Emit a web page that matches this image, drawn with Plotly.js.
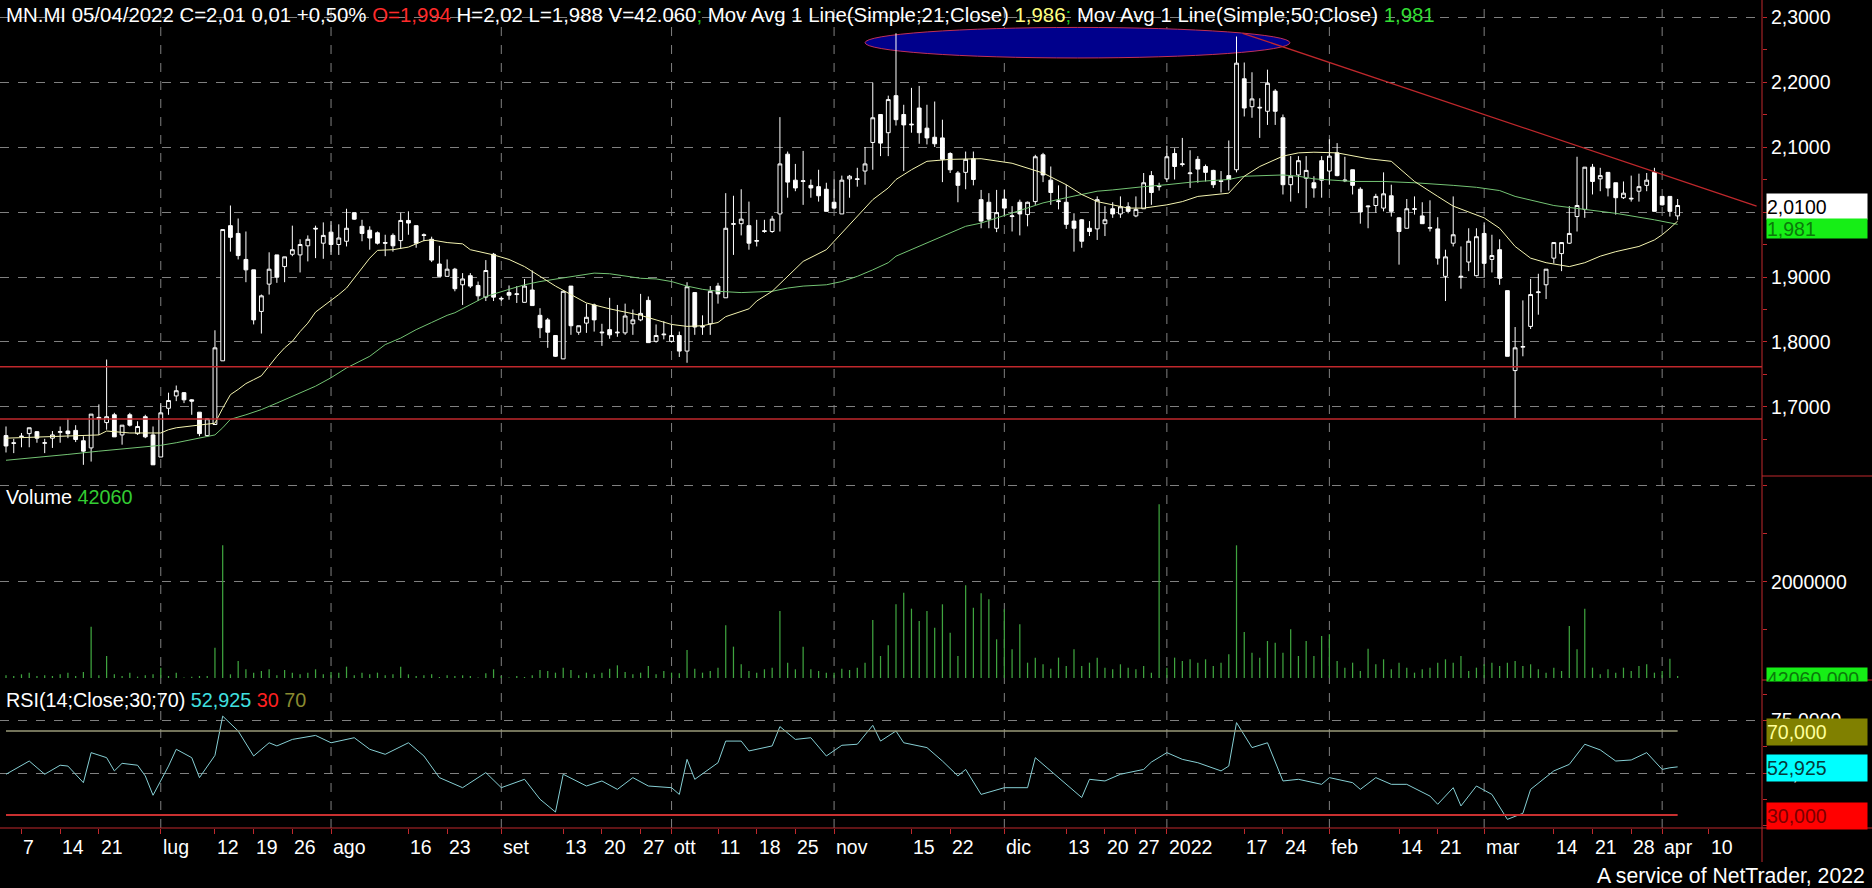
<!DOCTYPE html>
<html><head><meta charset="utf-8">
<script src="https://cdn.plot.ly/plotly-3.0.1.min.js"></script>
<style>html,body{margin:0;padding:0;background:#000;}#chart{width:1872px;height:888px;}</style>
</head><body><div id="chart"></div>
<script>
// ---------- DATA ----------
const startDate = '2021-06-03';
const endCalendar = '2022-04-15';
const holidays = ['2021-12-24','2021-12-31'];

const opens = [1.656,1.645,1.654,1.659,1.662,1.644,1.652,1.661,1.663,1.664,
1.648,1.637,1.682,1.676,1.688,1.657,1.688,1.659,1.685,1.657,
1.623,1.698,1.717,1.722,1.711,1.692,1.656,1.673,1.771,1.979,
1.967,1.927,1.911,1.847,1.889,1.934,1.916,1.935,1.934,1.948,
1.975,1.952,1.969,1.950,1.955,1.999,1.978,1.972,1.968,1.953,
1.964,1.956,1.987,1.979,1.965,1.958,1.920,1.901,1.912,1.888,
1.902,1.887,1.869,1.935,1.866,1.876,1.873,1.861,1.880,1.841,
1.834,1.810,1.774,1.886,1.815,1.829,1.857,1.814,1.819,1.814,
1.814,1.828,1.834,1.864,1.801,1.811,1.801,1.810,1.786,1.876,
1.823,1.828,1.886,1.868,1.981,1.982,1.979,1.955,1.970,1.970,
1.997,2.089,2.049,2.047,2.041,2.039,2.035,2.015,1.997,2.051,
2.050,2.063,2.107,2.150,2.122,2.179,2.150,2.134,2.160,2.129,
2.115,2.114,2.090,2.060,2.061,2.082,2.019,2.015,1.975,2.020,
1.993,2.015,1.996,2.016,2.088,2.049,2.016,2.015,1.986,1.988,
1.975,1.974,1.982,2.005,1.997,2.008,1.994,2.005,2.056,2.039,
2.051,2.090,2.073,2.059,2.081,2.070,2.064,2.047,2.056,2.065,
2.205,2.162,2.160,2.155,2.186,2.145,2.042,2.057,2.052,2.045,
2.079,2.063,2.091,2.048,2.065,2.035,2.008,2.010,2.006,2.025,
1.991,1.975,2.004,1.994,1.975,1.974,1.901,1.952,1.900,1.923,
1.902,1.967,1.927,1.942,1.879,1.756,1.792,1.824,1.876,1.888,
1.929,1.936,1.952,1.993,2.004,2.069,2.051,2.061,2.045,2.022,
2.020,2.032,2.041,2.061,2.024,2.024,1.994];

const highs = [1.670,1.651,1.660,1.668,1.663,1.651,1.663,1.670,1.682,1.672,
1.655,1.689,1.704,1.773,1.691,1.672,1.691,1.678,1.688,1.670,
1.706,1.722,1.733,1.723,1.712,1.692,1.682,1.818,1.973,2.010,
1.990,1.970,1.911,1.873,1.938,1.934,1.931,1.979,1.958,1.964,
1.979,1.984,1.986,1.981,2.005,1.999,1.988,1.978,1.970,1.965,
1.967,1.999,2.001,1.979,1.967,1.962,1.948,1.927,1.914,1.906,
1.906,1.893,1.926,1.937,1.870,1.887,1.886,1.897,1.910,1.852,
1.837,1.810,1.878,1.886,1.825,1.859,1.859,1.828,1.868,1.857,
1.859,1.850,1.874,1.870,1.827,1.832,1.827,1.816,1.892,1.876,
1.841,1.886,1.891,2.029,2.025,2.035,2.016,1.988,1.988,1.994,
2.146,2.093,2.074,2.094,2.050,2.065,2.045,2.050,2.056,2.057,
2.068,2.100,2.199,2.150,2.179,2.275,2.165,2.191,2.194,2.165,
2.170,2.142,2.092,2.063,2.093,2.093,2.034,2.029,2.034,2.034,
2.009,2.019,2.016,2.088,2.091,2.070,2.041,2.042,1.998,1.989,
1.986,2.024,2.009,2.015,2.024,2.015,2.024,2.060,2.063,2.045,
2.102,2.098,2.114,2.095,2.086,2.073,2.065,2.063,2.110,2.270,
2.230,2.215,2.175,2.219,2.189,2.150,2.086,2.086,2.086,2.055,
2.086,2.112,2.106,2.085,2.065,2.038,2.010,2.028,2.061,2.042,
1.992,2.020,2.024,2.015,2.018,1.992,1.942,2.024,1.947,1.975,
1.975,1.984,1.965,1.958,1.879,1.823,1.864,1.897,1.905,1.912,
1.953,1.953,2.009,2.085,2.069,2.074,2.068,2.061,2.045,2.047,
2.056,2.059,2.060,2.068,2.024,2.024,2.020];

const lows = [1.630,1.629,1.638,1.638,1.645,1.629,1.637,1.645,1.652,1.646,
1.611,1.616,1.657,1.665,1.654,1.642,1.670,1.657,1.652,1.611,
1.623,1.688,1.709,1.706,1.688,1.655,1.655,1.673,1.771,1.939,
1.927,1.892,1.827,1.813,1.873,1.891,1.892,1.932,1.907,1.924,
1.929,1.928,1.934,1.934,1.947,1.988,1.955,1.942,1.950,1.932,
1.939,1.943,1.965,1.945,1.955,1.923,1.901,1.901,1.878,1.857,
1.883,1.863,1.863,1.863,1.863,1.865,1.860,1.861,1.856,1.806,
1.791,1.777,1.774,1.811,1.811,1.814,1.816,1.794,1.805,1.808,
1.811,1.811,1.832,1.799,1.799,1.804,1.799,1.777,1.768,1.811,
1.811,1.811,1.859,1.868,1.934,1.964,1.942,1.947,1.968,1.968,
1.970,2.022,2.032,2.011,2.022,2.016,2.001,2.005,1.997,2.022,
2.039,2.042,2.065,2.086,2.086,2.133,2.063,2.122,2.105,2.104,
2.100,2.046,2.060,2.015,2.035,2.041,1.975,1.975,1.969,1.993,
1.970,1.964,1.978,2.011,2.046,2.011,2.004,1.974,1.939,1.945,
1.963,1.957,1.963,1.991,1.991,1.998,1.992,2.005,2.011,2.033,
2.046,2.050,2.070,2.037,2.045,2.047,2.037,2.030,2.033,2.061,
2.147,2.145,2.114,2.134,2.134,2.027,2.016,2.029,2.006,2.022,
2.022,2.042,2.055,2.046,2.027,1.982,1.975,1.999,2.001,1.993,
1.919,1.975,1.996,1.982,1.970,1.919,1.863,1.947,1.882,1.909,
1.901,1.900,1.907,1.888,1.778,1.683,1.778,1.820,1.842,1.866,
1.921,1.909,1.951,1.970,1.991,2.027,2.032,2.024,1.996,2.020,
2.016,2.016,2.032,2.001,2.010,1.993,1.988];

const closes = [1.640,1.644,1.655,1.668,1.652,1.645,1.657,1.662,1.659,1.650,
1.632,1.689,1.684,1.685,1.654,1.672,1.672,1.670,1.654,1.611,
1.691,1.710,1.725,1.711,1.709,1.659,1.682,1.791,1.973,1.961,
1.933,1.911,1.834,1.871,1.912,1.900,1.931,1.942,1.950,1.958,
1.974,1.964,1.950,1.960,1.975,1.989,1.967,1.960,1.952,1.952,
1.948,1.987,1.983,1.952,1.964,1.926,1.901,1.912,1.882,1.897,
1.886,1.871,1.910,1.869,1.867,1.872,1.874,1.886,1.856,1.822,
1.815,1.778,1.878,1.825,1.825,1.838,1.834,1.815,1.811,1.815,
1.840,1.834,1.844,1.799,1.810,1.812,1.810,1.786,1.885,1.823,
1.824,1.878,1.874,1.975,1.982,1.989,1.952,1.956,1.971,1.989,
2.074,2.046,2.037,2.048,2.037,2.025,2.001,2.006,2.049,2.055,
2.051,2.074,2.145,2.106,2.173,2.142,2.134,2.135,2.122,2.114,
2.105,2.081,2.065,2.041,2.081,2.050,1.986,1.989,1.999,2.006,
1.994,1.997,2.015,2.085,2.057,2.030,2.017,1.981,1.975,1.955,
1.970,2.019,1.988,1.997,2.008,2.001,2.004,2.045,2.030,2.040,
2.085,2.070,2.074,2.060,2.066,2.061,2.042,2.048,2.050,2.229,
2.160,2.174,2.161,2.198,2.155,2.042,2.055,2.079,2.064,2.037,
2.049,2.086,2.056,2.049,2.041,2.000,2.009,2.024,2.028,2.001,
1.970,2.005,2.005,1.982,1.976,1.929,1.931,1.965,1.901,1.955,
1.962,1.921,1.933,1.898,1.778,1.791,1.793,1.873,1.877,1.912,
1.953,1.953,1.967,2.010,2.069,2.047,2.056,2.037,2.022,2.029,
2.021,2.039,2.049,2.001,2.011,2.001,2.010];

const volumes = [56000,42000,76000,111000,42000,56000,42000,76000,111000,42000,
125000,1069000,56000,458000,76000,42000,111000,28000,56000,76000,
215000,42000,111000,10000,28000,42000,42000,632000,2764000,76000,
354000,181000,111000,146000,181000,56000,167000,111000,76000,111000,
181000,76000,125000,111000,236000,56000,111000,76000,111000,56000,
76000,236000,76000,42000,56000,76000,21000,56000,42000,56000,
42000,10000,97000,181000,42000,10000,42000,21000,56000,167000,
146000,111000,215000,167000,56000,111000,76000,111000,194000,264000,
125000,76000,111000,250000,76000,146000,111000,97000,583000,194000,
111000,146000,215000,1097000,653000,285000,146000,111000,181000,215000,
1396000,319000,181000,653000,181000,146000,111000,111000,194000,167000,
215000,319000,1208000,458000,681000,1535000,1778000,1444000,1188000,1396000,
1049000,1535000,944000,458000,1931000,1465000,1764000,1639000,806000,1431000,
597000,1118000,319000,424000,285000,194000,424000,250000,597000,250000,
319000,424000,215000,181000,285000,215000,181000,250000,111000,3618000,
215000,424000,354000,389000,319000,389000,250000,319000,493000,2764000,
958000,528000,424000,771000,736000,528000,1014000,458000,771000,458000,
875000,910000,354000,215000,319000,146000,611000,285000,389000,181000,
319000,215000,111000,181000,215000,319000,389000,319000,458000,146000,
215000,285000,319000,250000,319000,354000,250000,285000,181000,111000,
215000,146000,1083000,597000,1444000,215000,76000,181000,111000,215000,
146000,250000,285000,111000,146000,403000,42060];

// Moving averages (candle index, value)
const ma21Idx = [0,12,13,16,20,21,22,24,26,27,28,29,30,31,32,33,34,35,36,37,38,39,40,41,42,43,44,45,46,47,48,50,52,53,54,55,57,59,60,63,65,67,69,71,73,75,78,80,82,84,86,88,90,92,93,96,97,99,101,103,106,108,110,112,114,115,117,119,122,126,130,132,134,137,139,141,143,145,147,150,152,154,158,160,162,165,167,169,172,174,176,179,182,185,187,191,193,195,197,199,202,204,206,208,211,213,214,215,216];
const ma21Val = [1.652,1.657,1.663,1.660,1.660,1.665,1.668,1.671,1.673,1.675,1.698,1.719,1.727,1.736,1.742,1.748,1.763,1.778,1.791,1.801,1.816,1.829,1.846,1.855,1.863,1.873,1.883,1.898,1.914,1.929,1.941,1.942,1.946,1.951,1.956,1.957,1.953,1.951,1.942,1.934,1.927,1.916,1.901,1.886,1.873,1.860,1.851,1.846,1.841,1.834,1.827,1.824,1.825,1.830,1.839,1.851,1.863,1.878,1.901,1.924,1.942,1.968,1.993,2.019,2.037,2.050,2.065,2.078,2.081,2.082,2.075,2.068,2.060,2.042,2.027,2.016,2.011,2.006,2.006,2.011,2.016,2.024,2.029,2.055,2.070,2.086,2.091,2.092,2.091,2.086,2.082,2.078,2.047,2.024,2.009,1.991,1.975,1.947,1.929,1.922,1.916,1.922,1.932,1.939,1.947,1.957,1.965,1.975,1.986];
const ma50Idx = [0,4,8,12,16,20,22,25,27,28,29,31,33,35,37,40,42,44,47,49,51,53,55,57,58,60,62,65,67,69,71,73,76,78,80,82,84,86,88,90,92,95,99,101,103,106,108,110,112,114,115,117,119,122,124,126,128,130,132,134,137,139,141,143,145,147,150,152,154,158,160,165,167,169,172,174,178,182,187,190,193,195,200,204,208,213,216];
const ma50Val = [1.618,1.622,1.627,1.632,1.637,1.641,1.645,1.652,1.657,1.668,1.681,1.688,1.696,1.706,1.716,1.732,1.745,1.760,1.778,1.796,1.806,1.819,1.830,1.841,1.845,1.857,1.870,1.881,1.888,1.893,1.897,1.901,1.906,1.905,1.901,1.898,1.897,1.893,1.886,1.881,1.878,1.876,1.878,1.883,1.886,1.888,1.893,1.901,1.911,1.922,1.932,1.942,1.952,1.968,1.978,1.983,1.991,1.998,2.006,2.014,2.022,2.027,2.032,2.034,2.037,2.039,2.042,2.045,2.047,2.050,2.055,2.057,2.055,2.051,2.049,2.047,2.047,2.045,2.041,2.038,2.033,2.024,2.010,2.004,1.998,1.988,1.981];

// RSI(14) (candle index, value)
const rsiIdx = [0,3,5,7,8,10,11,13,14,15,17,18,19,21,22,24,25,27,28,30,32,34,35,37,40,42,45,47,49,52,54,56,59,62,64,67,69,71,72,75,77,79,81,83,86,87,88,89,92,93,95,96,99,100,102,104,106,108,110,112,113,115,116,119,121,123,124,126,129,132,133,136,137,139,140,142,144,147,148,150,152,154,157,158,159,161,163,165,167,170,171,174,175,177,179,181,184,185,187,188,190,192,194,196,197,200,202,204,206,208,210,212,214,215,216];
const rsiVal = [49.4,55.7,49.4,53.7,53.3,45.4,59.7,57.3,51.0,54.6,53.7,48.6,39.4,53.3,61.3,57.3,47.8,58.4,77.1,70.0,58.1,64.4,62.9,66.0,67.9,64.4,66.8,61.3,58.9,64.4,58.1,47.8,43.0,50.2,43.0,47.0,37.5,31.4,49.4,43.8,46.2,42.2,47.8,43.8,43.0,39.8,56.5,47.0,54.9,65.2,65.2,60.5,62.9,72.1,66.0,66.8,58.1,63.2,63.7,72.7,65.2,70.0,64.4,62.1,55.7,48.6,51.7,39.8,43.0,43.0,57.3,47.8,44.6,38.3,47.0,46.2,49.4,51.7,55.2,59.7,56.5,54.9,51.0,53.3,74.0,62.1,64.4,46.2,47.0,44.6,47.8,45.4,42.2,47.8,44.6,44.6,39.0,35.1,43.0,34.3,43.8,39.8,27.9,30.8,42.2,51.0,54.1,63.7,61.0,55.7,56.2,59.7,51.7,52.5,52.925];

// Axis labels
const tickDates = ['2021-06-07','2021-06-14','2021-06-21','2021-07-01','2021-07-12','2021-07-19','2021-07-26','2021-08-02','2021-08-16','2021-08-23','2021-09-01','2021-09-13','2021-09-20','2021-09-27','2021-10-01','2021-10-11','2021-10-18','2021-10-25','2021-11-01','2021-11-15','2021-11-22','2021-12-01','2021-12-13','2021-12-20','2021-12-27','2022-01-03','2022-01-17','2022-01-24','2022-02-01','2022-02-14','2022-02-21','2022-03-01','2022-03-14','2022-03-21','2022-03-28','2022-04-01','2022-04-11'];
const tickText = ['7','14','21','lug','12','19','26','ago','16','23','set','13','20','27','ott','11','18','25','nov','15','22','dic','13','20','27','2022','17','24','feb','14','21','mar','14','21','28','apr','10'];
const monthGridDates = ['2021-07-01','2021-08-02','2021-09-01','2021-10-01','2021-11-01','2021-12-01','2022-01-03','2022-02-01','2022-03-01','2022-04-01'];
const priceTicks = [1.7,1.8,1.9,2.0,2.1,2.2,2.3];
const priceTickText = ['1,7000','1,8000','1,9000','','2,1000','2,2000','2,3000'];
const supportLevels = [1.762, 1.6815];
const trendFrom = {i:159.8, p:2.275}, trendTo = {i:226.2, p:2.009};
const highlight = {i0:111.0, i1:165.9, p0:2.237, p1:2.284};

// ---------- BUILD ----------
function tradingDays(start, end, hol){
  const out=[]; let d=new Date(start+'T00:00:00Z'); const e=new Date(end+'T00:00:00Z');
  while(d<=e){ const s=d.toISOString().slice(0,10); const w=d.getUTCDay();
    if(w!==0 && w!==6 && hol.indexOf(s)<0) out.push(s); d=new Date(d.getTime()+86400000);} return out;
}
const calendar = tradingDays(startDate, endCalendar, holidays);
const N = opens.length;
const idx = opens.map((_,i)=>i);
const pos = d => calendar.indexOf(d);

const W=1872, H=888;
const PX = x=>x/W, PY = y=>1-y/H;
const FONT = 'Liberation Sans, Arial, sans-serif';
const FS = 19.5;
const RED = '#c0282c';
const GRID = '#808080';

const traces = [
  {type:'candlestick', x:idx, open:opens, high:highs, low:lows, close:closes, xaxis:'x', yaxis:'y',
   increasing:{line:{color:'#ffffff',width:1}, fillcolor:'#000000'},
   decreasing:{line:{color:'#ffffff',width:1}, fillcolor:'#ffffff'},
   whiskerwidth:0, hoverinfo:'skip'},
  {type:'scatter', mode:'lines', x:ma50Idx, y:ma50Val, xaxis:'x', yaxis:'y', line:{color:'#74c474', width:1}, hoverinfo:'skip'},
  {type:'scatter', mode:'lines', x:ma21Idx, y:ma21Val, xaxis:'x', yaxis:'y', line:{color:'#f4f4b0', width:1}, hoverinfo:'skip'},
  {type:'bar', x:idx, y:volumes, xaxis:'x', yaxis:'y2', width:0.16, marker:{color:'#3fa43f', line:{width:0}}, hoverinfo:'skip'},
  {type:'scatter', mode:'lines', x:rsiIdx, y:rsiVal, xaxis:'x', yaxis:'y3', line:{color:'#86cfd4', width:1}, hoverinfo:'skip'}
];

const shapes = [];
monthGridDates.forEach(d=>{ const p=pos(d);
  shapes.push({type:'line', xref:'x', yref:'paper', x0:p, x1:p, y0:PY(828), y1:1, layer:'below', line:{color:GRID, width:1, dash:'dash'}}); });
shapes.push({type:'circle', xref:'x', yref:'y', x0:highlight.i0, x1:highlight.i1, y0:highlight.p0, y1:highlight.p1, fillcolor:'#00008c', line:{color:'#c03058', width:1}, layer:'below'});
supportLevels.forEach(v=>shapes.push({type:'line', xref:'paper', yref:'y', x0:0, x1:1762/W, y0:v, y1:v, line:{color:RED, width:1.5}}));
shapes.push({type:'line', xref:'x', yref:'y', x0:trendFrom.i, y0:trendFrom.p, x1:trendTo.i, y1:trendTo.p, line:{color:RED, width:1.3}});
shapes.push({type:'line', xref:'x', yref:'y3', x0:0, x1:N-1, y0:70, y1:70, line:{color:'#9a9a78', width:1.5}});
shapes.push({type:'line', xref:'x', yref:'y3', x0:0, x1:N-1, y0:30, y1:30, line:{color:'#c83030', width:2}});
// frame lines
shapes.push({type:'line', xref:'paper', yref:'paper', x0:1762/W, x1:1762/W, y0:PY(862), y1:1, line:{color:RED, width:1}});
shapes.push({type:'line', xref:'paper', yref:'paper', x0:1762/W, x1:1, y0:PY(476), y1:PY(476), line:{color:RED, width:1}});
shapes.push({type:'line', xref:'paper', yref:'paper', x0:1762/W, x1:1, y0:PY(680), y1:PY(680), line:{color:RED, width:1}});
shapes.push({type:'line', xref:'paper', yref:'paper', x0:0, x1:1, y0:PY(828), y1:PY(828), line:{color:RED, width:1}});

const ann = [];
tickDates.forEach((d,k)=>ann.push({xref:'x', yref:'paper', x:pos(d), y:PY(847), xanchor:'left', yanchor:'middle', text:tickText[k], showarrow:false, font:{family:FONT, size:FS, color:'#ffffff'}}));
ann.push({xref:'paper', yref:'paper', x:PX(4), y:PY(15), xanchor:'left', yanchor:'middle', showarrow:false, font:{family:FONT, size:20.4, color:'#ffffff'},
  text:"MN.MI 05/04/2022 C=2,01 0,01 +0,50% <span style='color:#ff2a2a'>O=1,994</span> H=2,02 L=1,988 V=42.060<span style='color:#22cc22'>;</span> Mov Avg 1 Line(Simple;21;Close) <span style='color:#ffff80'>1,986</span><span style='color:#22cc22'>;</span> Mov Avg 1 Line(Simple;50;Close) <span style='color:#33dd33'>1,981</span>"});
ann.push({xref:'paper', yref:'paper', x:PX(4), y:PY(497), xanchor:'left', yanchor:'middle', showarrow:false, font:{family:FONT, size:19.8, color:'#ffffff'},
  text:"Volume <span style='color:#33cc33'>42060</span>"});
ann.push({xref:'paper', yref:'paper', x:PX(4), y:PY(700), xanchor:'left', yanchor:'middle', showarrow:false, font:{family:FONT, size:19.8, color:'#ffffff'},
  text:"RSI(14;Close;30;70) <span style='color:#40e0e0'>52,925</span> <span style='color:#ff2020'>30</span> <span style='color:#8a8a30'>70</span>"});
ann.push({xref:'paper', yref:'paper', x:PX(1867), y:PY(875), xanchor:'right', yanchor:'middle', showarrow:false, font:{family:FONT, size:21.2, color:'#ffffff'},
  text:'A service of NetTrader, 2022'});
function box(text, yTop, yBot, bg, fg, valign){
  ann.push({xref:'paper', yref:'paper', x:PX(1766), y:PY(yTop), xanchor:'left', yanchor:'top', width:100, height:yBot-yTop, borderpad:0,
    align:'left', valign:valign||'middle', bgcolor:bg, showarrow:false, text:text, font:{family:FONT, size:FS, color:fg}});
}
box('2,0100', 193, 218, '#ffffff', '#000000');
box('1,981', 218, 237, '#16ee16', '#0b7a0b');
box('42060,000', 667, 680, '#16ee16', '#0b7a0b', 'top');
box('70,000', 718, 744, '#808000', '#ffff99');
box('52,925', 754, 780, '#00ffff', '#063a3a');
box('30,000', 802, 828, '#ff0000', '#7a0000');

const yCommon = {side:'right', anchor:'x', zeroline:false, showline:false, fixedrange:true, ticks:'outside', ticklen:4, tickcolor:RED,
  showgrid:true, gridcolor:GRID, griddash:'dash', gridwidth:1, tickfont:{family:FONT, size:FS, color:'#ffffff'}, tickmode:'array'};

const layout = {
  width:W, height:H, margin:{l:0,r:0,t:0,b:0}, paper_bgcolor:'#000000', plot_bgcolor:'#000000',
  showlegend:false, hovermode:false, dragmode:false, font:{family:FONT, size:FS, color:'#ffffff'},
  xaxis:{domain:[0,1762/W], range:[-0.775,226.9], anchor:'y3', showgrid:false, zeroline:false, showline:false,
    tickmode:'array', tickvals:tickDates.map(pos), ticktext:tickDates.map(()=>''), ticks:'outside', ticklen:5, tickcolor:RED,
    rangeslider:{visible:false}, fixedrange:true},
  yaxis:Object.assign({}, yCommon, {domain:[PY(476),1], range:[1.5938,2.3262], tickvals:priceTicks, ticktext:priceTickText,
    minor:{tickvals:[1.65,1.75,1.85,1.95,2.05,2.15,2.25], ticks:'outside', ticklen:4, tickcolor:RED, showgrid:false}}),
  yaxis2:Object.assign({}, yCommon, {domain:[PY(680),PY(476)], range:[-42000,4208000], tickvals:[2000000,4000000], ticktext:['2000000',''],
    minor:{tickvals:[1000000,3000000], ticks:'outside', ticklen:4, tickcolor:RED, showgrid:false}}),
  yaxis3:Object.assign({}, yCommon, {domain:[PY(828),PY(680)], range:[23.8,94.3], tickvals:[50,75], ticktext:['50,0000','75,0000'],
    minor:{tickvals:[25,37.5,62.5,87.5], ticks:'outside', ticklen:4, tickcolor:RED, showgrid:false}}),
  shapes:shapes, annotations:ann
};
Plotly.newPlot('chart', traces, layout, {staticPlot:true, displayModeBar:false});
</script></body></html>
